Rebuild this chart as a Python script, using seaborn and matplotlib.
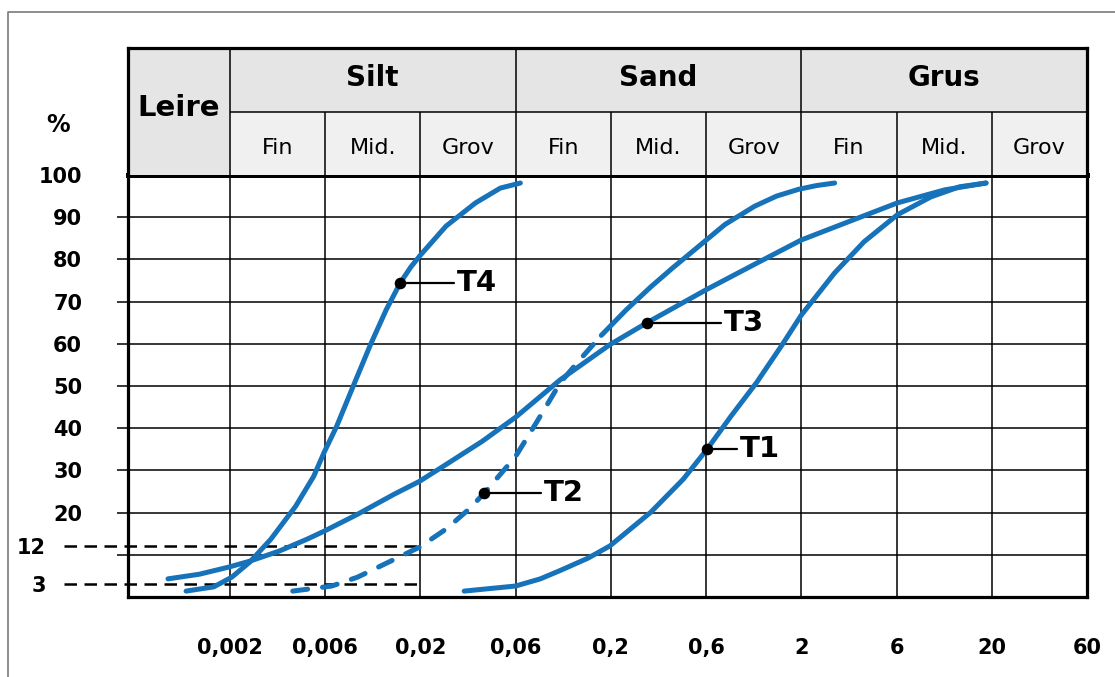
"""
Kornfordelingskurver (T1-T4) for leire, silt, sand og grus.
Gjenskapt med seaborn/matplotlib.
"""

import pandas as pd
import matplotlib.pyplot as plt
import seaborn as sns
from matplotlib.lines import Line2D
from matplotlib.patches import Rectangle

# Akse: kornstørrelse (mm), jevnt fordelt klasse for klasse
tick_labels = ["0,002", "0,006", "0,02", "0,06", "0,2", "0,6", "2", "6", "20", "60"]
tick_pos = [1, 2, 3, 4, 5, 6, 7, 8, 9, 10]

# Overskrift-tabell
main_groups = ["Silt", "Sand", "Grus"]
sub_groups = ["Fin", "Mid.", "Grov"]
pct_labels = [100, 90, 80, 70, 60, 50, 40, 30, 20]
ref_levels = [12, 3]

# Kurvene (x = posisjon på kornstørrelsesaksen, y = % gjennomgang)
t1_x = [3.46, 4.0, 4.26, 4.47, 4.76, 4.99, 5.42, 5.76, 6.01, 6.26, 6.53, 6.8, 7.0, 7.35, 7.66,
        8.01, 8.36, 8.66, 8.94]
t1_y = [1.4, 2.6, 4.3, 6.3, 9.2, 12.1, 20.1, 27.9, 35.0, 42.8, 50.8, 59.8, 66.8, 76.8, 84.2,
        90.6, 94.8, 97.2, 98.1]

t2_dash_x = [1.66, 2.07, 2.34, 2.67, 2.99, 3.27, 3.51, 3.67, 4.0, 4.22, 4.47, 4.65, 4.9]
t2_dash_y = [1.4, 2.6, 4.7, 8.3, 11.8, 16.1, 20.8, 24.6, 33.3, 41.4, 50.8, 55.6, 62.0]
t2_x = [4.9, 5.16, 5.42, 5.65, 5.88, 6.2, 6.51, 6.74, 6.97, 7.16, 7.35]
t2_y = [62.0, 68.0, 73.5, 78.0, 82.3, 88.3, 92.6, 95.0, 96.6, 97.5, 98.1]

t3_x = [0.35, 0.68, 0.99, 1.21, 1.52, 1.81, 1.99, 2.34, 2.72, 2.99, 3.27, 3.65, 4.0, 4.47,
        4.99, 5.38, 6.0, 6.54, 7.0, 7.55, 8.01, 8.51, 8.94]
t3_y = [4.3, 5.4, 7.1, 8.5, 10.9, 13.7, 15.6, 19.6, 24.3, 27.4, 31.4, 36.9, 42.6, 51.5,
        59.8, 65.0, 72.8, 79.2, 84.6, 89.4, 93.4, 96.5, 98.1]

t4_x = [0.54, 0.83, 1.02, 1.21, 1.43, 1.69, 1.88, 1.99, 2.12, 2.31, 2.48, 2.64, 2.79, 2.9,
        3.0, 3.27, 3.58, 3.84, 4.05]
t4_y = [1.4, 2.4, 4.7, 8.3, 13.7, 21.5, 28.6, 34.3, 40.4, 50.8, 60.0, 68.0, 74.5, 78.2,
        81.0, 87.9, 93.4, 96.9, 98.1]

# Merkepunkter på kurvene
mark_names = ["T1", "T2", "T3", "T4"]
mark_x = [6.01, 3.67, 5.38, 2.79]
mark_y = [35.0, 24.6, 65.0, 74.5]
leader_end = [6.33, 4.27, 6.16, 3.35]

BLUE = "#1672b9"
W, H = 1115, 677


def fx(px):
    return px / W


def fy(py):
    return 1 - py / H


def tegn():
    sns.set_style("white")
    plt.rcParams["font.family"] = ["DejaVu Sans"]
    plt.rcParams["text.color"] = "black"
    plt.rcParams["xtick.color"] = "black"
    plt.rcParams["ytick.color"] = "black"

    fig = plt.figure(figsize=(11.15, 6.77), dpi=100)
    ax = fig.add_axes([fx(128), fy(597), fx(1087) - fx(128), fy(175) - fy(597)])
    hx = fig.add_axes([fx(128), fy(175), fx(1087) - fx(128), fy(48) - fy(175)])

    xmin, xmax = -0.07, 10.0

    # Rutenett
    ax.vlines(tick_pos[:-1], 0, 100, color="black", lw=1.1, zorder=1)
    ax.hlines(list(range(10, 100, 10)), -0.19, xmax, color="black", lw=1.1,
              clip_on=False, zorder=1)

    # Stiplede referanselinjer (12 % og 3 %)
    for lvl in ref_levels:
        ln, = ax.plot([-0.74, 3.0], [lvl, lvl], color="black", lw=1.8, clip_on=False, zorder=2)
        ln.set_dashes((5, 3))

    # Kurver
    kw = dict(color=BLUE, lw=3.6, sort=False, estimator=None, ax=ax,
              solid_capstyle="round", solid_joinstyle="round", zorder=3)
    sns.lineplot(x=t1_x, y=t1_y, **kw)
    sns.lineplot(x=t3_x, y=t3_y, **kw)
    sns.lineplot(x=t4_x, y=t4_y, **kw)
    sns.lineplot(x=t2_x, y=t2_y, **kw)
    sns.lineplot(x=t2_dash_x, y=t2_dash_y, **kw)
    ax.lines[-1].set_dashes((3, 3))
    ax.lines[-1].set_dash_capstyle("round")

    # Merkepunkter med etiketter
    for navn, x0, y0, x1 in zip(mark_names, mark_x, mark_y, leader_end):
        ax.plot([x0, x1], [y0, y0], color="black", lw=1.6, zorder=4)
        ax.text(x1 + 0.03, y0, navn, fontsize=21, fontweight="bold",
                ha="left", va="center", zorder=5)
    ax.scatter(mark_x, mark_y, s=70, color="black", zorder=6, linewidths=0)

    # Akser
    ax.set_xlim(xmin, xmax)
    ax.set_ylim(0, 100)
    ax.set_xticks(tick_pos, tick_labels)
    ax.tick_params(axis="x", length=8.5, width=1.1, pad=21, labelsize=15)
    ax.xaxis.get_major_ticks()[-1].tick1line.set_visible(False)
    ax.set_yticks(pct_labels, [str(v) for v in pct_labels])
    ax.set_yticks(ref_levels, [str(v) for v in ref_levels], minor=True)
    ax.tick_params(axis="y", which="major", length=0, pad=33, labelsize=15)
    ax.tick_params(axis="y", which="minor", length=0, pad=59, labelsize=15)
    for lab in ax.get_xticklabels() + ax.get_yticklabels() + ax.get_yticklabels(minor=True):
        lab.set_fontweight("bold")
    for side in ["left", "bottom", "right"]:
        ax.spines[side].set_linewidth(2.3)
        ax.spines[side].set_color("black")
    ax.spines["top"].set_linewidth(3.6)
    ax.spines["top"].set_color("black")
    ax.spines["top"].set_zorder(7)
    ax.set_xlabel("")
    ax.set_ylabel("")

    # Overskrift-tabell
    hx.set_xlim(xmin, xmax)
    hx.set_ylim(0, 2)
    hx.add_patch(Rectangle((xmin, 0), 1 - xmin, 2, fc="#e5e5e5", ec="none"))
    hx.add_patch(Rectangle((1, 1), 9, 1, fc="#e5e5e5", ec="none"))
    hx.add_patch(Rectangle((1, 0), 9, 1, fc="#f0f0f0", ec="none"))
    hx.hlines(1, 1, xmax, color="black", lw=1.1)
    hx.vlines([1, 4, 7], 0, 2, color="black", lw=1.1)
    hx.vlines([p for p in tick_pos[:-1] if p not in (1, 4, 7)], 0, 1, color="black", lw=1.1)
    hx.text((xmin + 1) / 2, 1.06, "Leire", fontsize=21, fontweight="bold", ha="center", va="center")
    for i, gruppe in enumerate(main_groups):
        hx.text(2.5 + 3 * i, 1.53, gruppe, fontsize=20, fontweight="bold", ha="center", va="center")
        for j, sub in enumerate(sub_groups):
            hx.text(1.5 + 3 * i + j, 0.43, sub, fontsize=16, ha="center", va="center")
    hx.set_xticks([])
    hx.set_yticks([])
    hx.spines["bottom"].set_visible(False)
    for side in ["left", "right", "top"]:
        hx.spines[side].set_linewidth(2.3)
        hx.spines[side].set_color("black")

    fig.text(fx(58), fy(125), "%", fontsize=17, fontweight="bold", ha="center", va="center")

    # Ytre ramme
    fig.add_artist(Line2D([fx(8), fx(8), 1], [0, fy(12), fy(12)],
                          transform=fig.transFigure, color="#7a7a7a", lw=1.2))

    fig.savefig("out.png", dpi=100, facecolor="white")


if __name__ == "__main__":
    tegn()
